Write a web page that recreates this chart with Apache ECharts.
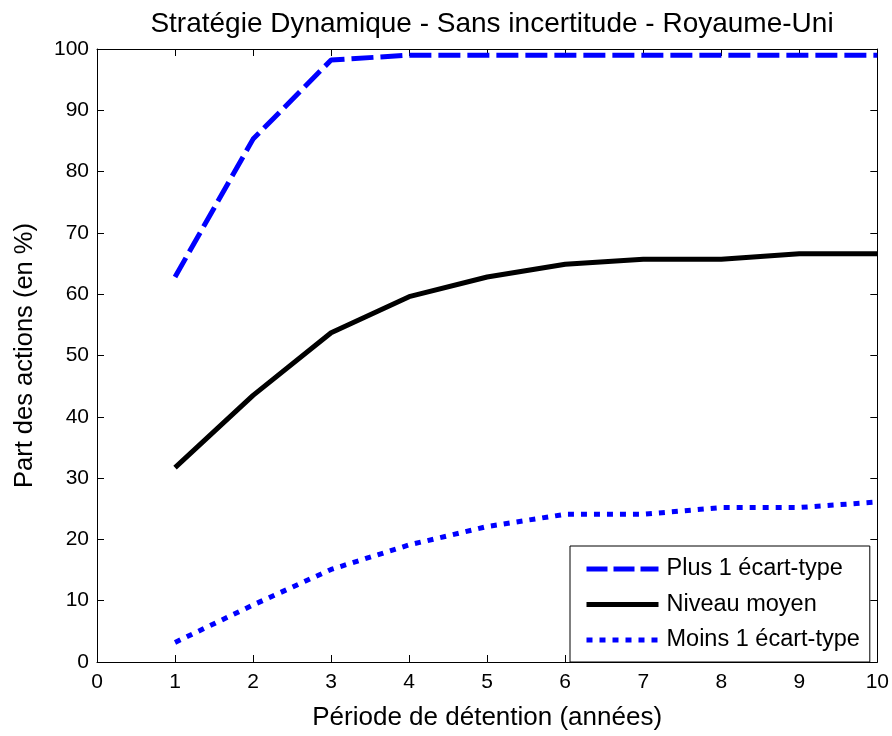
<!DOCTYPE html>
<html>
<head>
<meta charset="utf-8">
<script src="https://cdn.jsdelivr.net/npm/echarts@6/dist/echarts.min.js"></script>
<style>html,body{margin:0;padding:0;background:#fff}#c{width:892px;height:736px}</style>
</head>
<body>
<div id="c"></div>
<script>
const periods = [1, 2, 3, 4, 5, 6, 7, 8, 9, 10];
const plusUn = [62.8, 85.3, 98.2, 99.0, 99.0, 99.0, 99.0, 99.0, 99.0, 99.0];
const moyen = [31.7, 43.5, 53.7, 59.6, 62.8, 64.9, 65.7, 65.7, 66.6, 66.6];
const moinsUn = [3.2, 9.3, 15.1, 19.1, 22.1, 24.1, 24.1, 25.2, 25.2, 26.1];
const seriesNames = ['Plus 1 écart-type', 'Niveau moyen', 'Moins 1 écart-type'];

const font = '"Liberation Sans", Arial, sans-serif';
const chart = echarts.init(document.getElementById('c'), null, {renderer: 'canvas'});
const pair = arr => periods.map((p, i) => [p, arr[i]]);
const axisLine = {show: true, onZero: false, lineStyle: {color: '#000', width: 1}};
const tickIn = {show: true, inside: true, length: 7, lineStyle: {color: '#000'}};

const styles = [
  {color: '#0000ff', width: 5, type: [22, 7], cap: 'butt'},
  {color: '#000000', width: 5, type: 'solid', cap: 'butt'},
  {color: '#0000ff', width: 5, type: [6, 7], cap: 'butt'}
];
const legendDash = [[21, 6], null, [6, 7]];

chart.setOption({
  animation: false,
  backgroundColor: '#fff',
  title: {
    text: 'Stratégie Dynamique - Sans incertitude - Royaume-Uni',
    left: 487, top: 5, textAlign: 'center',
    textStyle: {fontFamily: font, fontSize: 28, fontWeight: 'normal', color: '#000'}
  },
  grid: {left: 97, right: 14, top: 49, bottom: 72, containLabel: false},
  xAxis: [{
    type: 'value', min: 0, max: 10, interval: 1,
    name: 'Période de détention (années)', nameLocation: 'middle', nameGap: 43,
    nameTextStyle: {fontFamily: font, fontSize: 26, color: '#000'},
    axisLine: axisLine, axisTick: tickIn, splitLine: {show: false},
    axisLabel: {fontFamily: font, fontSize: 21, color: '#000', margin: 10}
  }, {
    type: 'value', min: 0, max: 10, interval: 1, position: 'top',
    axisLine: axisLine, axisTick: tickIn, splitLine: {show: false}, axisLabel: {show: false}
  }],
  yAxis: [{
    type: 'value', min: 0, max: 100, interval: 10,
    name: 'Part des actions (en %)', nameLocation: 'middle', nameGap: 59, nameRotate: 90,
    nameTextStyle: {fontFamily: font, fontSize: 25.5, color: '#000'},
    axisLine: axisLine, axisTick: tickIn, splitLine: {show: false},
    axisLabel: {fontFamily: font, fontSize: 21, color: '#000', margin: 8}
  }, {
    type: 'value', min: 0, max: 100, interval: 10, position: 'right',
    axisLine: axisLine, axisTick: tickIn, splitLine: {show: false}, axisLabel: {show: false}
  }],
  legend: {
    orient: 'vertical', left: 570, top: 546,
    padding: [11, 10, 10, 14], itemGap: 11.5, itemWidth: 72, itemHeight: 22,
    backgroundColor: '#fff', borderColor: '#000', borderWidth: 1, borderRadius: 0,
    textStyle: {fontFamily: font, fontSize: 23.5, color: '#000', padding: [0, 0, 0, 3]},
    itemStyle: {opacity: 0},
    data: seriesNames.map((n, i) => ({
      name: n,
      itemStyle: {opacity: 0},
      lineStyle: {color: styles[i].color, width: 5, type: legendDash[i] || 'solid', cap: 'butt'}
    }))
  },
  series: seriesNames.map((n, i) => ({
    name: n, type: 'line', symbol: 'none',
    data: pair([plusUn, moyen, moinsUn][i]),
    lineStyle: styles[i],
    itemStyle: {color: styles[i].color}
  }))
});
</script>
</body>
</html>
